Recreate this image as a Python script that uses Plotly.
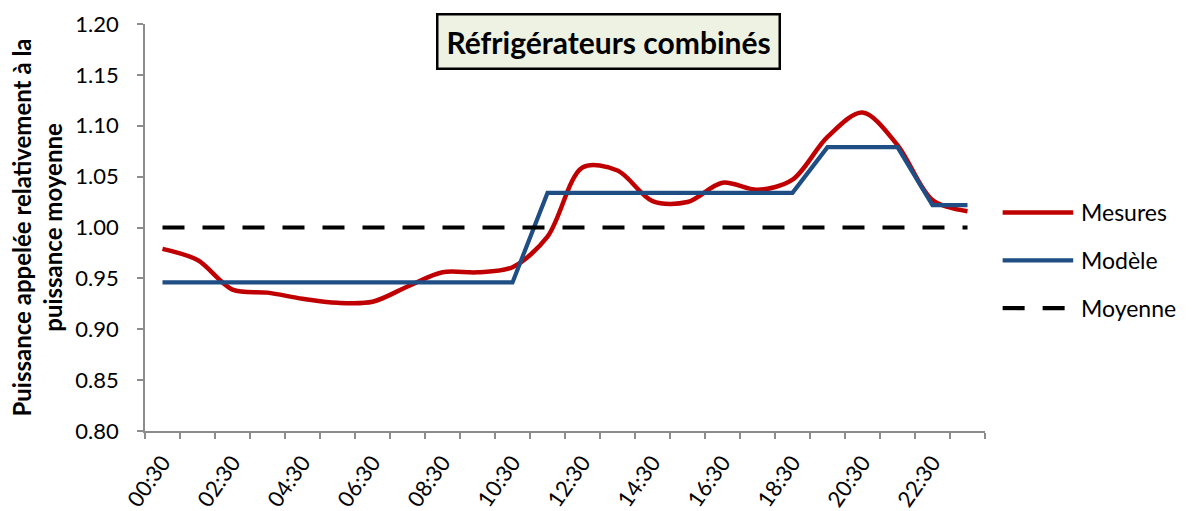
import plotly.graph_objects as go

# Hourly samples (half past each hour)
hours = [f"{h:02d}:30" for h in range(24)]

mesures = [0.979, 0.968, 0.939, 0.936, 0.930, 0.926, 0.927, 0.942,
           0.956, 0.956, 0.961, 0.991, 1.059, 1.056, 1.026, 1.025,
           1.044, 1.037, 1.047, 1.089, 1.113, 1.081, 1.027, 1.016]

modele = [0.946, 0.946, 0.946, 0.946, 0.946, 0.946, 0.946, 0.946,
          0.946, 0.946, 0.946, 1.034, 1.034, 1.034, 1.034, 1.034,
          1.034, 1.034, 1.034, 1.079, 1.079, 1.079, 1.022, 1.022]

moyenne = [1.00] * 24

series_names = ["Mesures", "Modèle", "Moyenne"]
y_ticks = [0.80, 0.85, 0.90, 0.95, 1.00, 1.05, 1.10, 1.15, 1.20]

RED = "#C00000"
BLUE = "#1F4E85"
AXIS = "#8C8C8C"
FONT = "Lato"
DASH = "22px,18px"

idx = list(range(len(hours)))

fig = go.Figure()
fig.add_trace(go.Scatter(x=idx, y=mesures, name=series_names[0], mode="lines",
                         line=dict(color=RED, width=4.5, shape="spline", smoothing=0.9)))
fig.add_trace(go.Scatter(x=idx, y=modele, name=series_names[1], mode="lines",
                         line=dict(color=BLUE, width=4.2)))
fig.add_trace(go.Scatter(x=idx, y=moyenne, name=series_names[2], mode="lines",
                         line=dict(color="black", width=4.2, dash=DASH)))

# Hand-drawn legend on the right
legend_y = [0.537, 0.419, 0.302]
legend_styles = [dict(color=RED, width=4.5),
                 dict(color=BLUE, width=4.2),
                 dict(color="black", width=4.2, dash=DASH)]
for name, ly, st in zip(series_names, legend_y, legend_styles):
    fig.add_shape(type="line", xref="paper", yref="paper",
                  x0=1.021, x1=1.105, y0=ly, y1=ly, line=st)
    fig.add_annotation(xref="paper", yref="paper", x=1.112, y=ly,
                       text=name, showarrow=False, xanchor="left", yanchor="middle",
                       font=dict(family=FONT, size=23, color="black"))

# Boxed title
fig.add_annotation(xref="paper", yref="paper", x=0.552, y=0.958,
                   text="<b>Réfrigérateurs combinés</b>", showarrow=False,
                   xanchor="center", yanchor="middle",
                   font=dict(family=FONT, size=30, color="black"),
                   bgcolor="#EEF2E2", bordercolor="black", borderwidth=2.5, borderpad=8)

fig.update_layout(
    width=1195, height=511,
    margin=dict(l=145, r=210, t=24, b=80),
    paper_bgcolor="white", plot_bgcolor="white",
    showlegend=False,
    font=dict(family=FONT, size=22, color="black"),
    xaxis=dict(
        range=[-0.5, 23.5],
        tickvals=idx[::2], ticktext=hours[::2],
        tickangle=-55,
        ticks="outside", ticklen=8, tickcolor="rgba(0,0,0,0)",
        tickfont=dict(family=FONT, size=22),
        minor=dict(ticks="outside", tick0=-0.5, dtick=1, ticklen=6,
                   tickcolor=AXIS, tickwidth=1.5, showgrid=False),
        showline=True, linecolor=AXIS, linewidth=1.5,
        showgrid=False, zeroline=False, automargin=False,
    ),
    yaxis=dict(
        range=[0.80, 1.20],
        tickvals=y_ticks, tickformat=".2f",
        ticks="outside", ticklen=6, tickcolor=AXIS, tickwidth=1.5,
        ticklabelstandoff=14,
        tickfont=dict(family=FONT, size=22),
        showline=True, linecolor=AXIS, linewidth=1.5,
        showgrid=False, zeroline=False, automargin=False,
        title=dict(text="<b>Puissance appelée relativement à la<br>puissance moyenne</b>",
                   font=dict(family=FONT, size=24), standoff=6),
    ),
)

fig.write_html("out.html")
